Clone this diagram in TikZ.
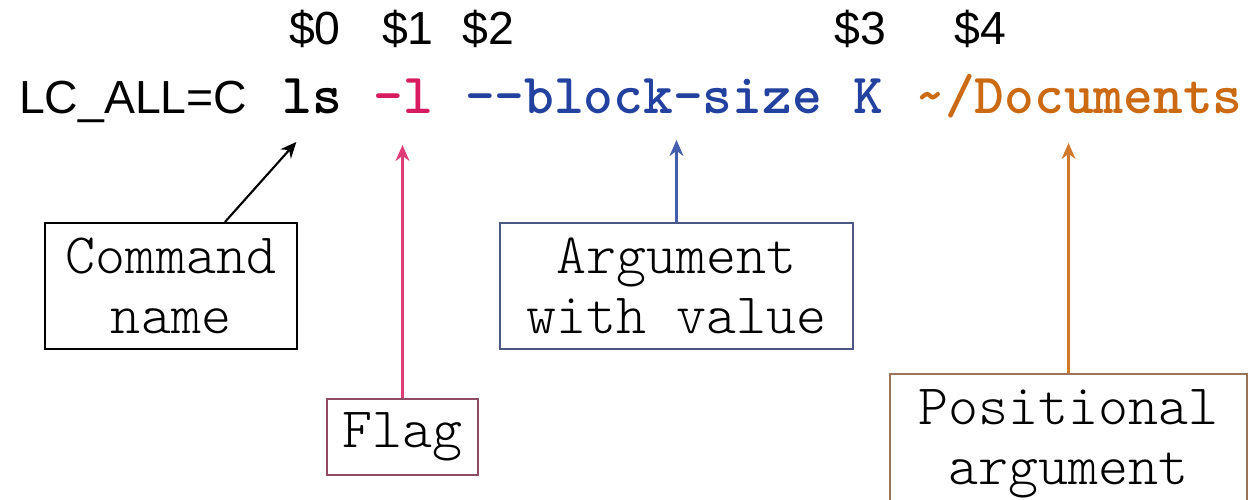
\documentclass[tikz,border=0pt]{standalone}
\usepackage{fontspec}
\usepackage{tikz}
\usetikzlibrary{arrows.meta,positioning}
\newfontfamily\labelfont{Liberation Sans}
\definecolor{flagred}{HTML}{D81B60}
\definecolor{optblue}{HTML}{2342A0}
\definecolor{pathorange}{HTML}{CC6A14}
\definecolor{flagbox}{HTML}{8E4B63}
\definecolor{optbox}{HTML}{4A5785}
\definecolor{pathbox}{HTML}{9A7358}

\begin{document}
\begin{tikzpicture}[-{Stealth[length=1.6mm,width=1.4mm]}, line width=0.6pt]
\tikzstyle{envtok}=[inner sep=0pt, anchor=base west, font=\labelfont\fontsize{13.2}{16}\selectfont]
\tikzstyle{tok}=[inner sep=0pt, font=\ttfamily\bfseries\fontsize{16.12}{19}\selectfont]
\tikzstyle{dollar}=[inner sep=0pt, anchor=base, font=\labelfont\fontsize{13.2}{16}\selectfont]
\tikzstyle{nd}=[draw=black, rectangle, inner sep=0pt, align=center, font=\ttfamily\fontseries{l}\fontsize{16.26}{17.07}\selectfont]
\useasboundingbox (0,0) rectangle (12.5,-4.99);
% command line
\node[envtok]                   (env)  at (0.18,-1.13) {LC\_ALL=C};
\node[tok]                      (ls)   [base right=0.33cm of env]   {ls};
\node[tok, text=flagred]        (dash) [base right=0.297cm of ls]   {-l};
\node[tok, text=optblue]        (opt)  [base right=0.297cm of dash] {-{}-block-size};
\node[tok, text=optblue]        (val)  [base right=0.297cm of opt]  {K};
\node[tok, text=pathorange]     (path) [base right=0.297cm of val]  {\textasciitilde/Documents};
% positions
\node[dollar] (d0) at (3.15,-0.44) {\$0};
\node[dollar] (d1) at (4.08,-0.44) {\$1};
\node[dollar] (d2) at (4.88,-0.44) {\$2};
\node[dollar] (d3) at (8.60,-0.44) {\$3};
\node[dollar] (d4) at (9.80,-0.44) {\$4};
% boxes
\node[nd, minimum width=2.52cm, minimum height=1.26cm]                 (cmd)    at (1.71,-2.86)   {Command\\name};
\node[nd, draw=flagbox, minimum width=1.51cm, minimum height=0.76cm]  (flag)   at (4.025,-4.37)  {Flag};
\node[nd, draw=optbox, minimum width=3.53cm, minimum height=1.26cm]   (arg)    at (6.765,-2.86)  {Argument\\with value};
\node[nd, draw=pathbox, minimum width=3.57cm, minimum height=1.40cm]  (posarg) at (10.685,-4.44) {Positional\\argument};
% arrow tips
\coordinate (lstip)   at ([xshift=0.15cm, yshift=-0.29cm]ls.base west);
\coordinate (dashtip) at ([yshift=-0.32cm]dash.base);
\coordinate (opttip)  at ([yshift=-0.27cm]opt.base);
\coordinate (pathtip) at ([yshift=-0.30cm]path.base);
\path
([xshift=0.54cm]cmd.north) edge                               (lstip)
(flag)                     edge [draw=flagred!85!white]       (flag.north |- dashtip)
(arg)                      edge [draw=optblue!85!white]       (arg.north |- opttip)
(posarg)                   edge [draw=pathorange!90!white]    (posarg.north |- pathtip);
\end{tikzpicture}
\end{document}
